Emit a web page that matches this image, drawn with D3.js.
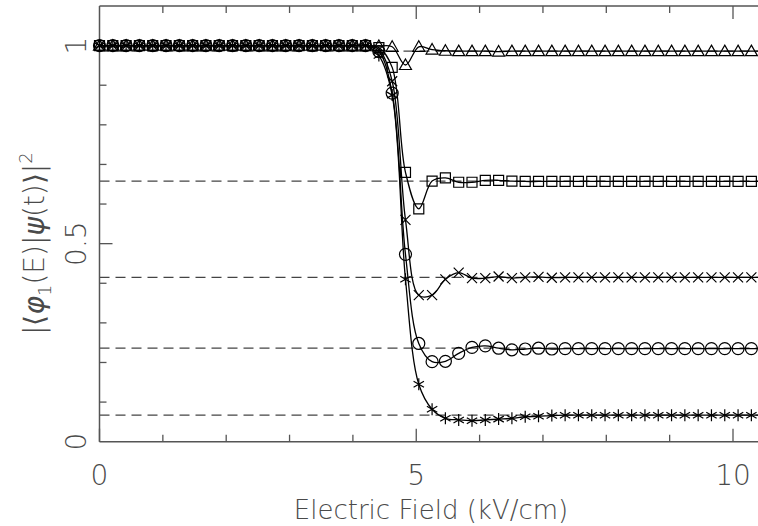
<!DOCTYPE html>
<html>
<head>
<meta charset="utf-8">
<script src="https://cdn.jsdelivr.net/npm/d3@7"></script>
<style>
  body { margin: 0; background: #fff; }
  svg text { font-family: "DejaVu Sans", sans-serif; font-weight: 200; fill: #4a4a4a; }
</style>
</head>
<body>
<svg id="chart" width="758" height="526"></svg>
<script>
// electric field grid (kV/cm) where the markers sit
const efield = [0, 0.21, 0.42, 0.63, 0.84, 1.05, 1.26, 1.47, 1.68, 1.89,
	2.1, 2.31, 2.52, 2.73, 2.94, 3.15, 3.36, 3.57, 3.78, 3.99,
	4.2, 4.41, 4.62, 4.83, 5.04, 5.25, 5.46, 5.67, 5.88, 6.09,
	6.3, 6.51, 6.72, 6.93, 7.14, 7.35, 7.56, 7.77, 7.98, 8.19,
	8.4, 8.61, 8.82, 9.03, 9.24, 9.45, 9.66, 9.87, 10.08, 10.29, 10.5];

const flat = [1, 1, 1, 1, 1, 1, 1, 1, 1, 1, 1, 1, 1, 1, 1, 1, 1, 1, 1, 1, 1];

const triangles = flat.concat([0.999, 0.997, 0.951, 0.997, 0.99, 0.987, 0.986, 0.986, 0.986, 0.985,
	0.986, 0.986, 0.986, 0.986, 0.986, 0.986, 0.986, 0.986, 0.986, 0.986,
	0.986, 0.986, 0.986, 0.986, 0.986, 0.986, 0.986, 0.986, 0.986, 0.986]);

const squares = flat.concat([0.995, 0.945, 0.68, 0.588, 0.658, 0.666, 0.655, 0.655, 0.66, 0.66,
	0.658, 0.657, 0.657, 0.657, 0.657, 0.657, 0.657, 0.657, 0.657, 0.657,
	0.657, 0.657, 0.657, 0.657, 0.657, 0.657, 0.657, 0.657, 0.657, 0.657]);

const crosses = flat.concat([0.99, 0.91, 0.56, 0.37, 0.37, 0.41, 0.427, 0.413, 0.413, 0.417,
	0.413, 0.415, 0.416, 0.414, 0.415, 0.415, 0.415, 0.415, 0.415, 0.415,
	0.415, 0.415, 0.415, 0.415, 0.415, 0.415, 0.415, 0.415, 0.415, 0.415]);

const circles = flat.concat([0.985, 0.88, 0.473, 0.248, 0.202, 0.203, 0.223, 0.238, 0.242, 0.236,
	0.232, 0.234, 0.236, 0.234, 0.235, 0.235, 0.235, 0.235, 0.235, 0.235,
	0.235, 0.235, 0.235, 0.235, 0.235, 0.235, 0.235, 0.235, 0.235, 0.235]);

const stars = flat.concat([0.975, 0.875, 0.41, 0.145, 0.082, 0.059, 0.055, 0.053, 0.055, 0.057,
	0.059, 0.063, 0.064, 0.066, 0.067, 0.067, 0.067, 0.067, 0.067, 0.067,
	0.067, 0.067, 0.067, 0.067, 0.067, 0.067, 0.067, 0.067, 0.067, 0.067]);

// long-time limits drawn as dashed lines
const limits = [0.986, 0.658, 0.415, 0.236, 0.067];

const xTicks = [0, 5, 10];
const yTicks = [0, 0.5, 1];

let svg = d3.select("#chart");
let width = 758, height = 526;
let margin = {"left": 99.5, "top": 6, "bottom": 84.3};

let xScale = d3.scaleLinear()
	.domain([0, 10.5])
	.range([margin.left, margin.left + 10.5 * 63.35]);
let yScale = d3.scaleLinear()
	.domain([0, 1.1])
	.range([height - margin.bottom, margin.top]);

let x0 = xScale(0), y0 = yScale(0), yTop = yScale(1.1);
let axisColor = "#555";

// dashed limits
svg.append("g").selectAll("line.limit")
	.data(limits)
	.enter()
	.append("line")
	.attr("class", "limit")
	.attr("x1", x0)
	.attr("x2", width)
	.attr("y1", d => yScale(d))
	.attr("y2", d => yScale(d))
	.attr("stroke", "#444")
	.attr("stroke-width", 1.2)
	.attr("stroke-dasharray", "10,6");

// frame
let frame = svg.append("g").attr("stroke", axisColor).attr("stroke-width", 1.5);
frame.append("line").attr("x1", x0).attr("x2", x0).attr("y1", y0).attr("y2", yTop);
frame.append("line").attr("x1", x0).attr("x2", width).attr("y1", y0).attr("y2", y0);
frame.append("line").attr("x1", x0).attr("x2", width).attr("y1", yTop).attr("y2", yTop);

// ticks on bottom and top, pointing inward
let xMinor = d3.range(1, 11).filter(d => d % 5 !== 0);
let xAll = xTicks.map(d => ({v: d, len: 13})).concat(xMinor.map(d => ({v: d, len: 7})));
let tk = svg.append("g").attr("stroke", axisColor).attr("stroke-width", 1.3);
tk.selectAll("line.bt")
	.data(xAll).enter().append("line")
	.attr("x1", d => xScale(d.v)).attr("x2", d => xScale(d.v))
	.attr("y1", y0).attr("y2", d => y0 - d.len);
tk.selectAll("line.tt")
	.data(xAll.filter(d => d.v > 0)).enter().append("line")
	.attr("x1", d => xScale(d.v)).attr("x2", d => xScale(d.v))
	.attr("y1", yTop).attr("y2", d => yTop + d.len);

let yMinor = d3.range(1, 11).filter(d => d % 5 !== 0).map(d => d / 10);
let yAll = yTicks.map(d => ({v: d, len: 13})).concat(yMinor.map(d => ({v: d, len: 7})));
tk.selectAll("line.lt")
	.data(yAll.filter(d => d.v > 0)).enter().append("line")
	.attr("x1", x0).attr("x2", d => x0 + d.len)
	.attr("y1", d => yScale(d.v)).attr("y2", d => yScale(d.v));

// tick labels
svg.append("g").selectAll("text.xl")
	.data(xTicks).enter().append("text")
	.attr("x", d => xScale(d))
	.attr("y", 485)
	.attr("text-anchor", "middle")
	.style("font-size", "28px")
	.text(d => d);

svg.append("g").selectAll("text.yl")
	.data(yTicks).enter().append("text")
	.attr("transform", d => "translate(76," + yScale(d) + ") rotate(-90)")
	.attr("text-anchor", "middle")
	.attr("dy", "0.35em")
	.style("font-size", "28px")
	.text(d => d);

// axis titles
svg.append("text")
	.attr("x", 431)
	.attr("y", 519)
	.attr("text-anchor", "middle")
	.style("font-size", "26px")
	.text("Electric Field (kV/cm)");

let ylab = svg.append("text")
	.attr("transform", "translate(44," + yScale(0.5) + ") rotate(-90)")
	.attr("text-anchor", "middle")
	.style("font-size", "28px");
ylab.append("tspan").text("|\u27e8");
ylab.append("tspan").style("font-style", "italic").style("font-weight", 200).text("\u03c6");
ylab.append("tspan").attr("dy", 7).style("font-size", "18px").text("1");
ylab.append("tspan").attr("dy", -7).text("(E)|");
ylab.append("tspan").style("font-style", "italic").style("font-weight", 200).text("\u03c8");
ylab.append("tspan").text("(t)\u27e9|");
ylab.append("tspan").attr("dy", -12).style("font-size", "18px").text("2");

// curves and markers
const series = [
	{name: "triangle", values: triangles},
	{name: "square", values: squares},
	{name: "cross", values: crosses},
	{name: "circle", values: circles},
	{name: "star", values: stars}
];

const line = d3.line()
	.x((d, i) => xScale(efield[i]))
	.y(d => yScale(d))
	.curve(d3.curveCatmullRom.alpha(0.5));

let plot = svg.append("g");
plot.selectAll("path.curve")
	.data(series).enter().append("path")
	.attr("class", "curve")
	.attr("fill", "none")
	.attr("stroke", "#000")
	.attr("stroke-width", 1.3)
	.attr("d", d => line(d.values));

const symbols = {
	triangle: "M0,-6L6,4.5L-6,4.5Z",
	square: "M-5,-5H5V5H-5Z",
	cross: "M-5,-5L5,5M-5,5L5,-5",
	circle: d3.symbol(d3.symbolCircle, 113)(),
	star: "M0,-6V6M-5.2,-3L5.2,3M-5.2,3L5.2,-3"
};

series.forEach(function(s){
	plot.append("g").selectAll("path.mk")
		.data(s.values).enter().append("path")
		.attr("class", "mk")
		.attr("transform", (d, i) => "translate(" + xScale(efield[i]) + "," + yScale(d) + ")")
		.attr("d", symbols[s.name])
		.attr("fill", "none")
		.attr("stroke", "#000")
		.attr("stroke-width", 1.2);
});
</script>
</body>
</html>
